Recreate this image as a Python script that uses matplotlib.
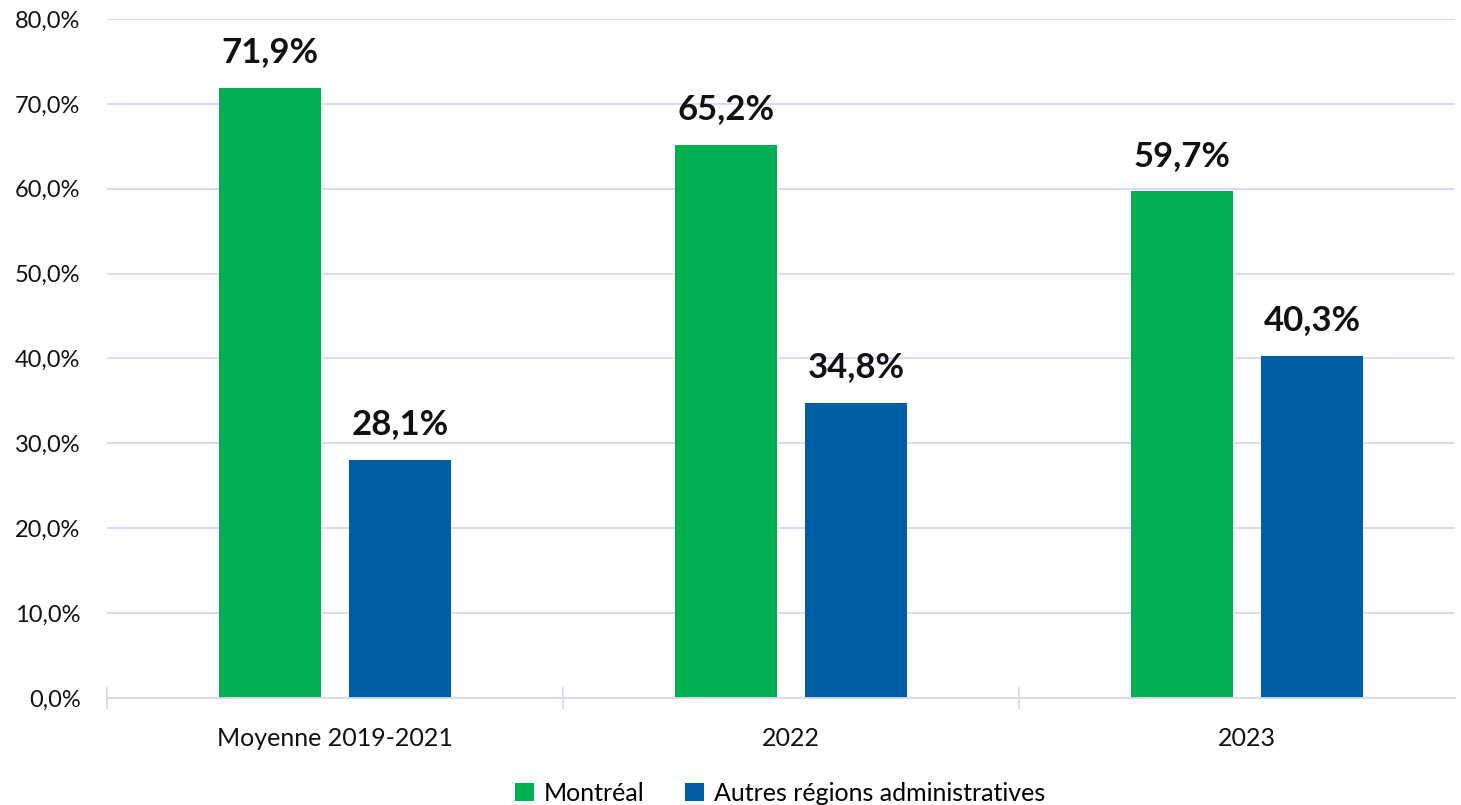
import matplotlib.pyplot as plt
import numpy as np

plt.rcParams['font.family'] = ['Lato', 'DejaVu Sans']

categories = ["Moyenne 2019-2021", "2022", "2023"]
montreal = [71.9, 65.2, 59.7]
autres = [28.1, 34.8, 40.3]
series_names = ["Montréal", "Autres régions administratives"]
yticks = [0, 10, 20, 30, 40, 50, 60, 70, 80]

green = "#00AF50"
blue = "#005EA4"
grid_col = "#D9D9EF"

fig = plt.figure(figsize=(14.61, 8.05), dpi=100)
ax = fig.add_axes([107/1461, 107/805, (1455-107)/1461, (698-19)/805])

x = np.arange(len(categories))
w = 102/456
off = 65/456
b1 = ax.bar(x - off, montreal, w, color=green, label=series_names[0], zorder=3)
b2 = ax.bar(x + off, autres, w, color=blue, label=series_names[1], zorder=3)

for bars, vals in ((b1, montreal), (b2, autres)):
    for r, v in zip(bars, vals):
        ax.annotate(f"{v:.1f}%".replace(".", ","), (r.get_x() + r.get_width()/2, v),
                    xytext=(0, 14), textcoords="offset points", ha="center", va="bottom",
                    fontsize=25, fontweight="bold", color="#111111")

ax.set_ylim(0, 80)
ax.set_xlim(-0.5, (1455-107)/456 - 0.5)
ax.set_yticks(yticks)
ax.set_yticklabels([f"{t:.1f}%".replace(".", ",") for t in yticks], fontsize=17, color="#111111")
ax.yaxis.grid(True, color=grid_col, linewidth=1.3, zorder=0)
ax.tick_params(axis="y", length=0, pad=19)

ax.set_xticks(x)
ax.set_xticklabels(categories, fontsize=18, color="#111111")
ax.set_xticks([-0.5, 0.5, 1.5], minor=True)
ax.tick_params(axis="x", which="major", length=0, pad=21)
ax.tick_params(axis="x", which="minor", length=16, direction="inout", color=grid_col, width=1.3)

for s in ("top", "right", "left"):
    ax.spines[s].set_visible(False)
ax.spines["bottom"].set_color(grid_col)
ax.spines["bottom"].set_linewidth(1.3)
ax.spines["bottom"].set_zorder(4)

fig.legend(handles=[b1, b2], labels=series_names, loc="center", bbox_to_anchor=(780/1461, 1 - 793/805),
           ncol=2, frameon=False, fontsize=18, handlelength=0.75, handleheight=0.75,
           handletextpad=0.4, columnspacing=1.6, borderaxespad=0)

fig.savefig("out.png", dpi=100)
